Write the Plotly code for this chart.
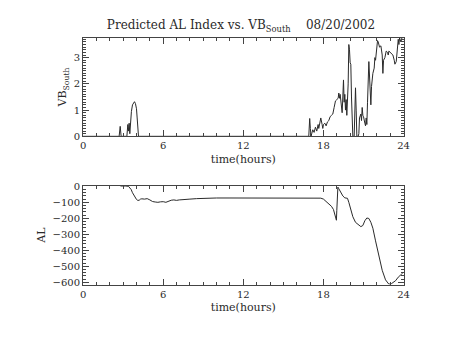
import plotly.graph_objects as go
from plotly.subplots import make_subplots

# Southward IMF component (VB_South) vs. time of day, 08/20/2002
vb_time = [0.0, 2.70, 2.78, 2.85, 3.28, 3.35, 3.40, 3.45, 3.50, 3.55, 3.62, 3.70, 3.78, 3.85,
           3.92, 4.00, 4.05, 4.10, 4.15, 16.90, 16.97, 17.02, 17.07, 17.12, 17.20, 17.30, 17.40,
           17.50, 17.60, 17.65, 17.75, 17.80, 17.90, 17.95, 18.00, 18.10, 18.20, 18.30, 18.40,
           18.50, 18.60, 18.70, 18.80, 18.90, 19.00, 19.10, 19.15, 19.20, 19.25, 19.30, 19.35,
           19.40, 19.45, 19.50, 19.55, 19.60, 19.65, 19.70, 19.75, 19.80, 19.85, 19.90, 19.95,
           20.00, 20.05, 20.10, 20.15, 20.20, 20.30, 20.35, 20.40, 20.45, 20.50, 20.60, 20.65,
           20.70, 20.80, 20.85, 20.90, 20.95, 21.00, 21.10, 21.15, 21.20, 21.25, 21.30, 21.35,
           21.40, 21.45, 21.50, 21.55, 21.60, 21.70, 21.80, 21.85, 21.90, 21.95, 22.05, 22.10,
           22.15, 22.20, 22.30, 22.40, 22.45, 22.50, 22.60, 22.70, 22.80, 22.85, 22.90, 23.00,
           23.10, 23.20, 23.30, 23.35, 23.45, 23.55, 23.60, 23.65, 23.70, 23.80, 23.90, 24.00]
vb_south = [0.0, 0.0, 0.38, 0.0, 0.0, 0.45, 0.2, 0.5, 0.1, 0.6, 0.95, 1.2, 1.3, 1.32,
            1.25, 1.05, 0.7, 0.3, 0.0, 0.0, 0.68, 0.3, 0.0, 0.1, 0.25, 0.15, 0.35,
            0.2, 0.45, 0.3, 0.55, 0.7, 0.45, 0.3, 0.45, 0.5, 0.4, 0.55, 0.6,
            0.75, 0.8, 0.85, 1.1, 1.35, 1.4, 1.45, 1.65, 1.45, 1.6, 1.3, 1.1,
            0.9, 1.5, 2.15, 1.3, 1.6, 1.0, 1.4, 0.8, 1.2, 2.0, 3.5, 3.3,
            2.8, 2.75, 1.5, 0.4, 0.0, 0.0, 1.2, 1.85, 1.0, 0.0, 0.0, 0.1,
            0.7, 0.85, 0.6, 1.1, 0.8, 0.75, 0.5, 0.4, 0.7, 0.45, 1.3, 2.0,
            2.85, 2.3, 1.7, 1.2, 1.9, 2.4, 2.6, 3.0, 2.9, 3.3, 3.65, 3.6,
            3.5, 3.4, 3.45, 3.1, 2.4, 2.9, 3.0, 3.25, 3.2, 3.1, 3.25, 3.2,
            3.15, 3.1, 2.9, 2.75, 2.85, 3.4, 3.7, 3.5, 3.75, 3.6, 3.8, 3.76]

# Predicted AL index vs. time of day
al_time = [2.80, 3.00, 3.20, 3.40, 3.50, 3.60, 3.70, 3.80, 3.90, 4.00, 4.10, 4.20, 4.30,
           4.40, 4.60, 4.80, 5.00, 5.20, 5.40, 5.60, 5.80, 6.00, 6.20, 6.40, 6.60, 6.80,
           7.00, 7.20, 7.50, 7.80, 8.00, 8.50, 9.00, 9.50, 10.0, 11.0, 12.0, 13.0, 14.0,
           15.0, 16.0, 17.0, 17.8, 18.0, 18.2, 18.4, 18.6, 18.75, 18.9, 18.97, 19.00,
           19.05, 19.08, 19.15, 19.30, 19.45, 19.60, 19.70, 19.80, 19.90, 20.00, 20.20,
           20.40, 20.60, 20.80, 20.95, 21.10, 21.25, 21.40, 21.55, 21.70, 21.90, 22.15,
           22.40, 22.65, 22.90, 23.10, 23.40, 23.60, 23.75, 23.85, 23.92]
al_index = [2, 3, 2, 0, -8, -20, -40, -55, -70, -82, -88, -87, -80,
            -78, -80, -77, -85, -95, -98, -100, -97, -96, -100, -92, -87, -85,
            -88, -85, -82, -80, -80, -77, -75, -74, -73, -73, -73, -74, -73,
            -74, -73, -73, -74, -80, -95, -110, -125, -145, -185, -212, -150,
            -40, -5, -15, -40, -60, -72, -72, -75, -100, -130, -190,
            -225, -238, -252, -245, -215, -198, -201, -225, -262, -341, -444,
            -525, -585, -612, -608, -590, -568, -553, -549, -545]

x_ticks = [0, 6, 12, 18, 24]

INK = "#2a2a2a"
FONT = "DejaVu Serif"

fig = make_subplots(rows=2, cols=1)

fig.add_trace(go.Scatter(x=vb_time, y=vb_south, mode="lines",
                         line=dict(color=INK, width=1), showlegend=False), row=1, col=1)
fig.add_trace(go.Scatter(x=al_time, y=al_index, mode="lines",
                         line=dict(color=INK, width=1), showlegend=False), row=2, col=1)

axis_common = dict(showline=True, linecolor="#444444", linewidth=1, mirror="ticks",
                   ticks="inside", tickcolor="#444444", ticklen=6, showgrid=False, zeroline=False,
                   tickfont=dict(family=FONT, size=10, color=INK))

x_domain = [81.7 / 453, 408.7 / 453]
for r in (1, 2):
    fig.update_xaxes(range=[0, 24], tickvals=x_ticks, ticktext=[str(v) for v in x_ticks],
                     domain=x_domain,
                     minor=dict(dtick=1, ticklen=3, ticks="inside", tickcolor="#444444"),
                     title=dict(text="time(hours)", standoff=4,
                                font=dict(family=FONT, size=11, color=INK)),
                     row=r, col=1, **axis_common)

fig.update_yaxes(range=[0, 3.76], tickvals=[0, 1, 2, 3],
                 domain=[1 - 135.3 / 340, 1 - 33.7 / 340],
                 minor=dict(dtick=0.1, ticklen=3, ticks="inside", tickcolor="#444444"),
                 title=dict(text="VB<sub>South</sub>", standoff=4,
                            font=dict(family=FONT, size=11, color=INK)),
                 row=1, col=1, **axis_common)
fig.update_yaxes(range=[-614, 5], tickvals=[0, -100, -200, -300, -400, -500, -600],
                 ticktext=["0", "\u2212100", "\u2212200", "\u2212300", "\u2212400", "\u2212500", "\u2212600"],
                 domain=[1 - 288 / 340, 1 - 186 / 340],
                 minor=dict(dtick=20, ticklen=3, ticks="inside", tickcolor="#444444"),
                 title=dict(text="AL", standoff=4,
                            font=dict(family=FONT, size=11, color=INK)),
                 row=2, col=1, **axis_common)

fig.update_layout(
    width=453, height=340,
    margin=dict(l=0, r=0, t=0, b=0),
    paper_bgcolor="white", plot_bgcolor="white",
    title=dict(text="Predicted AL Index vs. VB<sub>South</sub>    08/20/2002",
               x=241 / 453, xanchor="center", y=1 - 25 / 340, yanchor="middle",
               font=dict(family=FONT, size=12, color=INK)),
)

fig.write_html("out.html")
